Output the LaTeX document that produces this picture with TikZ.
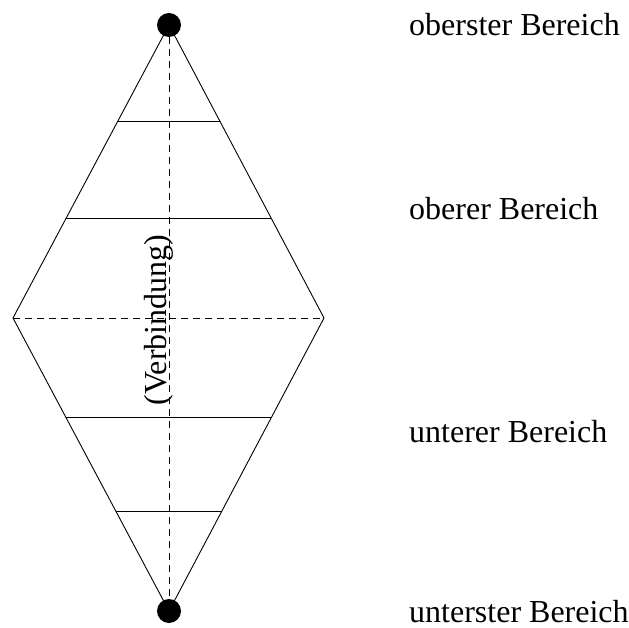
\documentclass[tikz,border=0pt]{standalone}
\usepackage{fontspec}
\setmainfont{Liberation Serif}
\usetikzlibrary{calc, positioning}

\tikzset{
  punkt/.style={circle, fill=black, inner sep=0pt, minimum size=24pt},
  linie/.style={line width=0.9pt},
  hilfslinie/.style={line width=0.9pt, dash pattern=on 7pt off 5pt},
  bereich/.style={anchor=base west, inner sep=0pt}
}

\begin{document}
\begin{tikzpicture}[x=1pt, y=-1pt, font=\fontsize{32}{38}\selectfont]
        \useasboundingbox (0,0) rectangle (629,628);

        % Ecken der Raute
        \coordinate (links) at (13,318);
        \coordinate (rechts) at (324,318);
        \coordinate (o) at (169,25);
        \coordinate (u) at (169,611);

        % Hilfslinien (gestrichelt)
        \draw[hilfslinie] (o) -- (u);
        \draw[hilfslinie] (links) -- (rechts);

        % Raute
        \draw[linie] (o) -- (links) -- (u) -- (rechts) -- cycle;

        % Querlinien
        \draw[linie] ($(o)!0.33!(links)$) -- ($(o)!0.33!(rechts)$);
        \draw[linie] ($(o)!0.66!(links)$) -- ($(o)!0.66!(rechts)$);
        \draw[linie] ($(u)!0.66!(links)$) -- ($(u)!0.66!(rechts)$);
        \draw[linie] ($(u)!0.34!(links)$) -- ($(u)!0.34!(rechts)$);

        % Punkte
        \node[punkt] (oben) at (o) {};
        \node[punkt] (unten) at (u) {};

        % Beschriftung
        \node[rotate=90, anchor=base, inner sep=0pt] (verbindung) at (166,320) {(Verbindung)};
        \node[bereich] (oberster) at (409,36) {oberster Bereich};
        \node[bereich] (oberer) at (409,220) {oberer Bereich};
        \node[bereich] (unterer) at (409,442) {unterer Bereich};
        \node[bereich] (unterster) at (409,622) {unterster Bereich};
\end{tikzpicture}
\end{document}
